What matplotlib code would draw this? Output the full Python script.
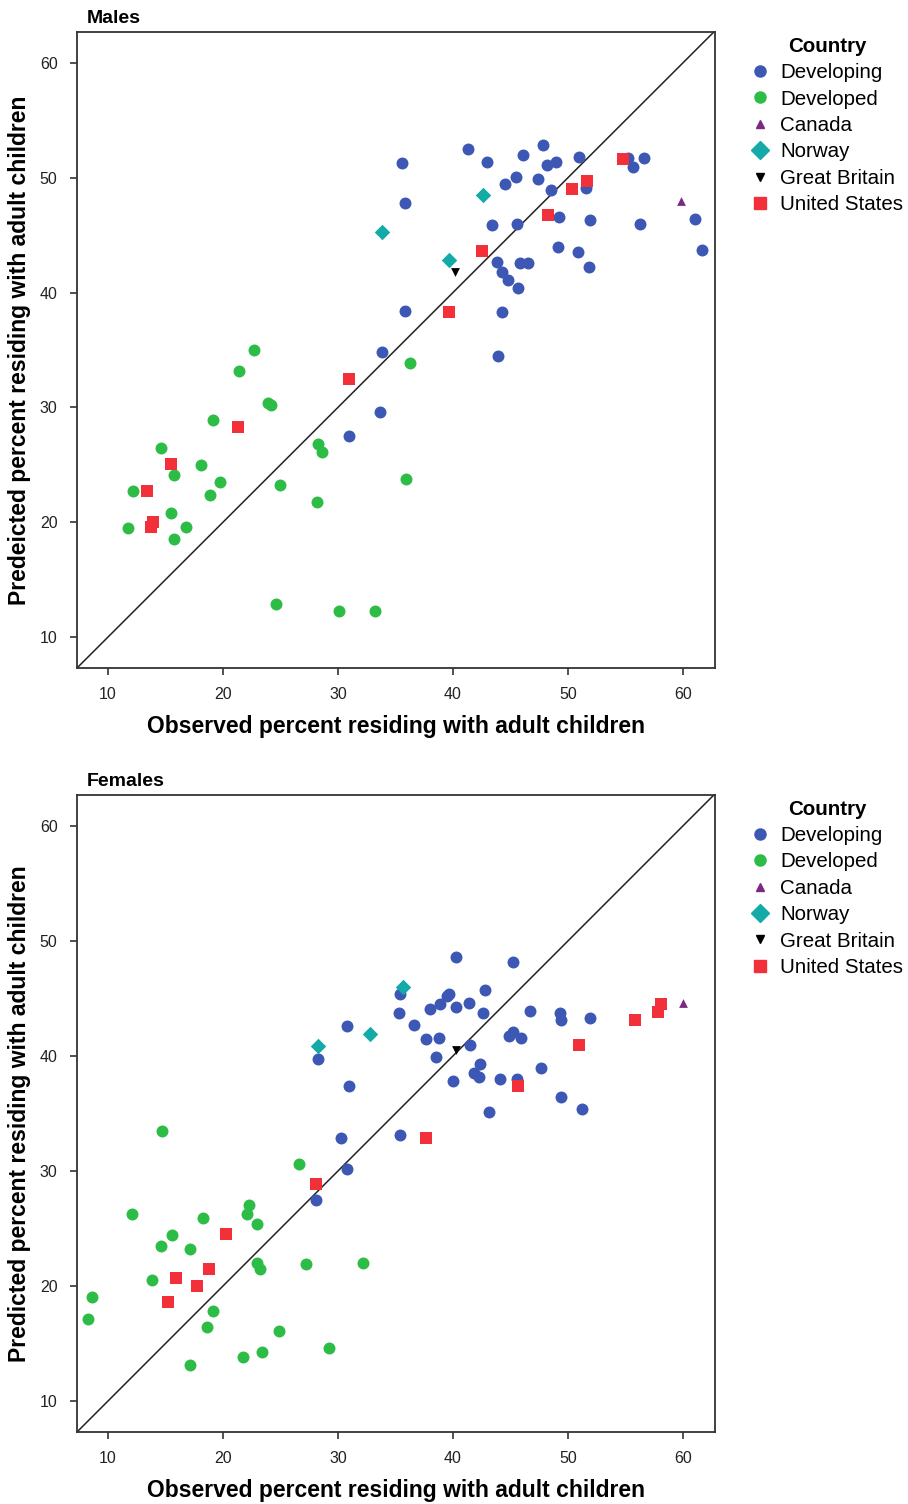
import matplotlib
matplotlib.use('Agg')
import matplotlib.pyplot as plt
from matplotlib.lines import Line2D

plt.rcParams['font.family'] = ['Liberation Sans', 'DejaVu Sans']

# ---- Males: observed (x) vs predicted (y) ----
m_developing_x = [35.6, 35.8, 35.8, 33.8, 33.7, 31.0, 41.3, 43.0, 46.1, 47.8, 44.5, 45.5, 47.4, 48.2, 49.0,
                  48.5, 51.0, 51.6, 55.2, 55.7, 56.6, 43.4, 45.6, 49.2, 51.9, 56.3, 61.1, 61.7, 43.8, 45.8,
                  46.5, 44.3, 44.8, 45.7, 49.1, 50.9, 51.8, 44.3, 43.9]
m_developing_y = [51.3, 47.8, 38.4, 34.8, 29.6, 27.5, 52.5, 51.4, 52.0, 52.9, 49.5, 50.1, 49.9, 51.1, 51.4,
                  48.9, 51.8, 49.1, 51.7, 50.9, 51.7, 45.9, 46.0, 46.6, 46.3, 46.0, 46.4, 43.7, 42.7, 42.6,
                  42.6, 41.8, 41.1, 40.4, 44.0, 43.5, 42.2, 38.3, 34.5]
m_developed_x = [22.7, 21.4, 23.9, 24.2, 19.1, 14.6, 18.1, 15.7, 12.2, 19.7, 18.9, 15.5, 11.7, 16.8, 15.7,
                 28.3, 28.6, 25.0, 28.2, 35.9, 36.3, 24.6, 30.1, 33.2]
m_developed_y = [35.0, 33.2, 30.4, 30.2, 28.9, 26.5, 25.0, 24.1, 22.7, 23.5, 22.4, 20.8, 19.5, 19.6, 18.5,
                 26.8, 26.1, 23.2, 21.8, 23.8, 33.9, 12.9, 12.3, 12.3]
m_canada_x = [59.8]
m_canada_y = [48.0]
m_norway_x = [33.8, 42.6, 39.7]
m_norway_y = [45.3, 48.5, 42.8]
m_britain_x = [40.2]
m_britain_y = [41.8]
m_usa_x = [54.8, 50.4, 51.7, 48.3, 42.5, 39.7, 31.0, 21.3, 15.5, 13.4, 13.9, 13.7]
m_usa_y = [51.6, 49.0, 49.7, 46.8, 43.6, 38.3, 32.5, 28.3, 25.1, 22.7, 20.0, 19.6]

# ---- Females ----
f_developing_x = [35.4, 35.3, 30.8, 28.3, 31.0, 30.3, 35.4, 30.8, 28.1, 40.3, 45.2, 39.7, 39.5, 42.8, 38.0,
                  38.9, 40.3, 41.4, 42.6, 46.7, 49.3, 49.4, 51.9, 36.6, 37.7, 38.8, 44.9, 45.2, 45.9, 41.5,
                  38.5, 42.4, 41.8, 42.3, 40.0, 44.1, 45.6, 47.7, 49.4, 51.2, 43.1]
f_developing_y = [45.4, 43.7, 42.6, 39.7, 37.4, 32.9, 33.1, 30.2, 27.5, 48.6, 48.2, 45.4, 45.2, 45.7, 44.1,
                  44.5, 44.3, 44.6, 43.7, 43.9, 43.7, 43.1, 43.3, 42.7, 41.5, 41.6, 41.7, 42.1, 41.6, 41.0,
                  39.9, 39.3, 38.5, 38.2, 37.8, 38.0, 38.0, 39.0, 36.4, 35.4, 35.1]
f_developed_x = [14.7, 26.6, 12.1, 22.3, 22.1, 18.3, 23.0, 15.6, 14.6, 17.1, 23.0, 23.2, 27.2, 32.2, 13.8,
                 8.6, 8.3, 19.1, 18.6, 24.9, 23.4, 21.7, 29.2, 17.1]
f_developed_y = [33.5, 30.6, 26.3, 27.0, 26.3, 25.9, 25.4, 24.4, 23.5, 23.2, 22.0, 21.5, 21.9, 22.0, 20.5,
                 19.0, 17.1, 17.8, 16.4, 16.1, 14.3, 13.8, 14.6, 13.1]
f_canada_x = [60.0]
f_canada_y = [44.6]
f_norway_x = [35.7, 28.3, 32.8]
f_norway_y = [46.0, 40.9, 41.9]
f_britain_x = [40.3]
f_britain_y = [40.5]
f_usa_x = [45.7, 51.0, 55.8, 57.8, 58.1, 37.7, 28.1, 20.3, 18.8, 15.9, 17.7, 15.2]
f_usa_y = [37.4, 41.0, 43.1, 43.8, 44.5, 32.9, 28.9, 24.5, 21.5, 20.7, 20.0, 18.6]

group_names = ['Developing', 'Developed', 'Canada', 'Norway', 'Great Britain', 'United States']
group_colors = ['#3d58b4', '#2dbd47', '#7b2a84', '#13aaa8', '#000000', '#f2303a']
group_markers = ['o', 'o', '^', 'D', 'v', 's']
group_sizes = [74, 74, 40, 62, 40, 74]

panels = [
    ('Males', 'Predeicted percent residing with adult children',
     [(m_developing_x, m_developing_y), (m_developed_x, m_developed_y), (m_canada_x, m_canada_y),
      (m_norway_x, m_norway_y), (m_britain_x, m_britain_y), (m_usa_x, m_usa_y)]),
    ('Females', 'Predicted percent residing with adult children',
     [(f_developing_x, f_developing_y), (f_developed_x, f_developed_y), (f_canada_x, f_canada_y),
      (f_norway_x, f_norway_y), (f_britain_x, f_britain_y), (f_usa_x, f_usa_y)]),
]

W, H = 908, 1504
fig = plt.figure(figsize=(W / 100, H / 100), dpi=100)

axes_px = [(77, 32, 715, 668), (77, 795, 715, 1432)]

for (title, ylabel, groups), (l, t, r, b) in zip(panels, axes_px):
    ax = fig.add_axes([l / W, 1 - b / H, (r - l) / W, (b - t) / H])
    ax.axline((10, 10), slope=1, color='#222222', lw=1.1, zorder=1)
    for (xs, ys), name, c, mk, s in zip(groups, group_names, group_colors, group_markers, group_sizes):
        ax.scatter(xs, ys, s=s, c=c, marker=mk, linewidths=0, zorder=3, label=name)
    ax.set_xlim(7.3, 62.8)
    ax.set_ylim(7.3, 62.7)
    ax.set_xticks([10, 20, 30, 40, 50, 60])
    ax.set_yticks([10, 20, 30, 40, 50, 60])
    ax.tick_params(direction='out', length=5, width=1.2, color='#333333', labelsize=11.5,
                   labelcolor='#222222', pad=9)
    for sp in ax.spines.values():
        sp.set_color('#333333')
        sp.set_linewidth(1.3)
    ax.set_xlabel('Observed percent residing with adult children', fontsize=16.5,
                  fontweight='bold', labelpad=9)
    ax.set_ylabel(ylabel, fontsize=16.5, fontweight='bold', labelpad=6)
    ax.text(0.015, 1.008, title, transform=ax.transAxes, fontsize=14, fontweight='bold',
            ha='left', va='bottom')

    handles = [Line2D([], [], linestyle='none', marker=mk, color=c, markersize=ms)
               for c, mk, ms in zip(group_colors, group_markers, [8, 8, 6, 9, 6, 8])]
    leg = ax.legend(handles, group_names, title='Country', loc='upper left',
                    bbox_to_anchor=(1.039, 1.012), frameon=False, fontsize=14.8,
                    title_fontproperties={'weight': 'bold', 'size': 14.8},
                    handlelength=0.8, handletextpad=0.55, labelspacing=0.36, borderaxespad=0.2)

fig.savefig('out.png', dpi=100)
